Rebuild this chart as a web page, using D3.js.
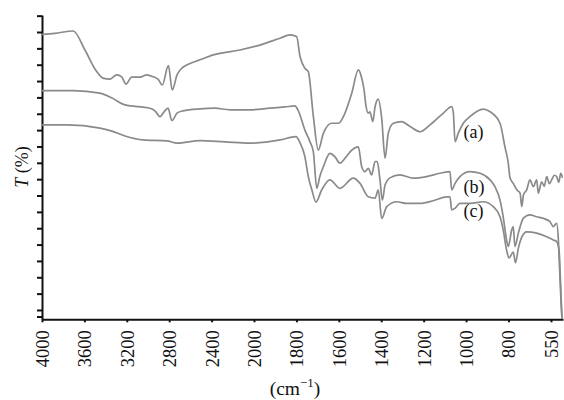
<!DOCTYPE html>
<html>
<head>
<meta charset="utf-8">
<script src="https://cdn.jsdelivr.net/npm/d3@7"></script>
<style>
    body { margin: 0; background: #fff; }
    #chart svg { display: block; }
    .axis path, .axis line { stroke: #111; stroke-width: 2; }
    .axis text { font-family: 'Liberation Serif', 'Times New Roman', serif; font-size: 18.5px; fill: #111; }
    .label { font-family: 'Liberation Serif', 'Times New Roman', serif; font-size: 18px; fill: #111; }
    .curve { fill: none; stroke: #8a8a8a; stroke-width: 1.7; stroke-linejoin: round; }
</style>
</head>
<body>
<div id="chart"></div>
<script>
//Wavenumber ticks (cm-1), the scale halves below 2000
const xTicks = [4000, 3600, 3200, 2800, 2400, 2000, 1800, 1600, 1400, 1200, 1000, 800, 550];
const yTicks = [-2, 0, 5, 10, 15, 20, 25, 30, 35, 40, 45, 50, 55, 60, 65, 70, 75, 80, 85, 90];

//Spectrum (a)
const waveA = [4000,3880,3705,3595,3484,3425,3358,3295,3248,3208,3154,3075,3012,2950,2906,2865,2808,2771,2726,2682,2635,2509,2384,2132,1972,1877,1830,1799,1783,1760,1744,1720,1697,1673,1634,1602,1571,1539,1508,1495,1481,1472,1461,1453,1440,1429,1414,1398,1382,1367,1343,1304,1264,1217,1170,1107,1068,1060,1052,1037,1013,982,919,887,840,817,801,791,772,750,732,722,712,693,674,654,634,625,605,590,575,560,546,530,517,505,493,483];
const transA = [84.3,84.6,85.3,79.5,72.9,70.9,70.6,71.9,71.3,69.1,71.2,71.2,71.9,71.3,70.6,68.8,74.7,67.3,71.9,73.9,74.9,76.5,78.0,79.5,81.0,83.1,84.1,83.6,77.5,73.9,72.9,59.1,48.9,54.0,57.1,57.1,60.2,66.3,73.4,71.6,67.3,62.4,60.2,60.6,57.6,62.2,64.5,58.7,46.4,54.0,57.1,57.6,56.1,54.5,56.6,60.2,62.2,60.2,51.5,54.0,57.1,59.1,61.4,60.6,57.1,49.9,44.9,40.4,38.7,36.7,35.7,31.6,35.2,36.7,39.8,37.7,39.8,35.7,39.2,37.8,40.8,38.6,39.8,41.2,40.8,39.0,41.8,40.4];

//Spectrum (b)
const waveB = [4000,3708,3453,3340,3217,2981,2934,2887,2849,2811,2774,2726,2670,2509,2368,2226,2038,1925,1854,1807,1793,1760,1736,1720,1704,1689,1673,1642,1618,1595,1566,1539,1508,1492,1477,1461,1445,1429,1419,1406,1395,1382,1359,1312,1249,1186,1123,1076,1068,1052,1029,982,934,887,864,840,825,809,801,781,772,762,742,713,674,634,595,556,537,517,507,502,492,486];
const transB = [67.1,67.1,66.3,64.8,62.7,61.7,60.9,59.1,60.6,61.7,57.9,60.2,60.9,61.5,61.7,61.2,61.2,61.7,62.1,62.4,61.2,55.0,51.4,48.3,37.2,41.0,43.8,47.9,46.8,44.9,46.8,48.9,49.9,43.8,42.3,43.3,41.3,45.4,45.4,39.8,33.6,38.2,40.4,41.3,40.3,40.8,41.8,42.3,36.7,38.7,40.8,42.3,41.8,39.8,37.7,33.6,28.5,21.4,19.4,24.5,25.5,19.4,23.5,28.0,29.1,28.5,28.0,27.0,25.5,26.5,21.4,15.3,3.1,-2.7];

//Spectrum (c)
const waveC = [4000,3764,3453,3340,3217,3047,2821,2726,2509,2274,2038,1877,1802,1783,1760,1744,1727,1708,1681,1642,1595,1532,1500,1461,1429,1414,1398,1374,1327,1280,1217,1155,1091,1076,1068,1052,1029,982,919,872,840,825,809,797,772,759,742,722,693,634,575,537,517,503,495,486];
const transC = [56.6,56.6,55.6,54.7,53.2,52.0,51.7,51.0,51.8,51.4,51.0,52.0,53.0,51.1,46.9,40.8,36.7,33.0,36.7,39.8,37.2,40.3,38.7,34.6,34.2,36.7,28.0,31.6,33.1,32.6,32.6,33.4,34.6,34.6,30.6,31.1,32.6,32.6,33.1,31.6,28.5,24.5,18.3,15.9,17.7,14.4,18.9,22.3,23.9,23.5,22.4,21.4,20.9,18.3,9.2,-2.7];

const seriesNames = ['(a)', '(b)', '(c)'];

let width = 564, height = 400;

let svg = d3.select('#chart')
    .append('svg')
        .attr('width', width)
        .attr('height', height);

//Piecewise x scale: 400 per tick above 2000, 200 per tick below
let x = d3.scaleLinear()
    .domain([4000, 2000, 800, 550, 480])
    .range([42, 254, 508.5, 551, 563]);

let y = d3.scaleLinear()
    .domain([-2.85, 90.2])
    .range([319.3, 15]);

//Axes
svg.append('g')
    .attr('class', 'axis x-axis')
    .attr('transform', 'translate(0,' + y(-2.85) + ')')
    .call(d3.axisBottom(x).tickValues(xTicks).tickSize(3).tickSizeOuter(0).tickFormat(d3.format('d')))
    .call(function(g) {
        g.selectAll('.tick text')
            .attr('transform', 'rotate(-90)')
            .attr('x', -11)
            .attr('y', 0)
            .attr('dy', '0.35em')
            .attr('text-anchor', 'end');
    });

svg.append('g')
    .attr('class', 'axis y-axis')
    .attr('transform', 'translate(' + x(4000) + ',0)')
    .call(d3.axisLeft(y).tickValues(yTicks).tickSize(5).tickSizeOuter(0).tickFormat(''));

//Spectra
let line = d3.line()
    .x(function(d) { return x(d[0]); })
    .y(function(d) { return y(d[1]); })
    .curve(d3.curveMonotoneX);

let spectra = [d3.zip(waveA, transA), d3.zip(waveB, transB), d3.zip(waveC, transC)];

svg.append('g')
    .selectAll('path')
    .data(spectra)
    .enter()
    .append('path')
    .attr('class', 'curve')
    .attr('d', line);

//Curve labels
let labelPos = [[1012, 52.5], [1012, 35.8], [1012, 28.5]];

svg.append('g')
    .selectAll('text')
    .data(seriesNames)
    .enter()
    .append('text')
    .attr('class', 'label')
    .attr('x', function(d, i) { return x(labelPos[i][0]); })
    .attr('y', function(d, i) { return y(labelPos[i][1]); })
    .text(function(d) { return d; });

//Axis titles
let yTitle = svg.append('text')
    .attr('class', 'label')
    .attr('transform', 'translate(28,167) rotate(-90)')
    .attr('text-anchor', 'middle');
yTitle.append('tspan').style('font-style', 'italic').text('T');
yTitle.append('tspan').text(' (%)');

let xTitle = svg.append('text')
    .attr('class', 'label')
    .attr('x', 295)
    .attr('y', 395)
    .attr('text-anchor', 'middle')
    .style('font-size', '19.5px');
xTitle.append('tspan').text('(cm');
xTitle.append('tspan').attr('dy', -8).style('font-size', '13px').text('\u22121');
xTitle.append('tspan').attr('dy', 8).text(')');
</script>
</body>
</html>
